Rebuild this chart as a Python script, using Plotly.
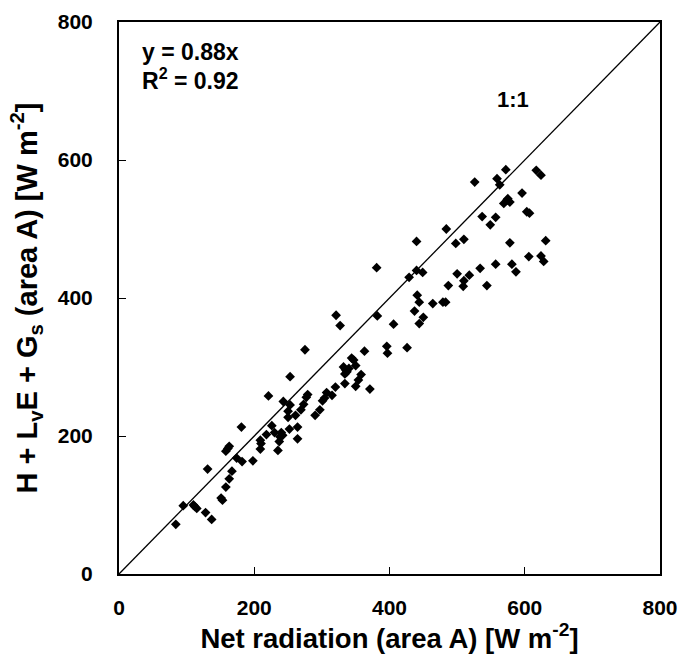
import plotly.graph_objects as go

net_radiation = [
    84, 95, 110, 112, 115, 128, 137, 151, 153, 158, 163, 167, 131, 181, 158, 161, 163, 174, 182, 198,
    209, 210, 209, 218, 226, 230, 235, 237, 238, 240, 242, 252, 221, 243, 253, 250, 250, 261, 264, 264,
    321, 327, 275, 253, 269, 273, 277, 279, 290, 297, 301, 304, 307, 315, 320, 332, 335, 334, 337, 340,
    344, 347, 350, 334, 350, 354,
    381, 429, 440, 449, 500, 487, 441, 444, 437, 444, 450, 464, 479, 483, 382, 406, 396, 397, 426, 363,
    358, 371,
    526, 559, 572, 563, 617, 624, 596, 569, 574, 575, 578, 603, 607, 537, 557, 549, 484, 440, 498, 510,
    578, 631, 606, 624, 628, 557, 581, 587, 534, 518, 510, 509, 544,
]
energy_sum = [
    72, 99, 100, 98, 95, 89, 79, 110, 107, 126, 138, 149, 152, 213, 178, 182, 185, 168, 163, 164,
    194, 189, 181, 202, 215, 205, 179, 192, 199, 205, 201, 210, 258, 250, 245, 236, 227, 230, 213, 196,
    375, 360, 325, 286, 238, 246, 256, 260, 230, 238, 251, 255, 263, 259, 271, 300, 296, 290, 293, 298,
    313, 310, 302, 276, 272, 281,
    444, 430, 440, 437, 435, 418, 404, 394, 381, 363, 372, 392, 394, 394, 374, 362, 330, 320, 328, 323,
    289, 268,
    568, 573, 586, 564, 585, 578, 552, 537, 542, 544, 539, 525, 523, 518, 517, 506, 500, 482, 479, 485,
    480, 483, 460, 461, 453, 449, 449, 438, 443, 433, 425, 417, 418,
]
one_to_one = [0, 800]
tick_vals = [0, 200, 400, 600, 800]

FONT = "Liberation Sans"

fig = go.Figure()
fig.add_trace(go.Scatter(
    x=one_to_one, y=one_to_one, mode="lines",
    line=dict(color="black", width=1.3), showlegend=False, hoverinfo="skip",
))
fig.add_trace(go.Scatter(
    x=net_radiation, y=energy_sum, mode="markers",
    marker=dict(symbol="diamond", size=7.5, color="black"), showlegend=False,
))

axis_common = dict(
    range=[0, 800], tickvals=tick_vals, ticks="inside", ticklen=7, tickwidth=1.3,
    tickcolor="black", showline=True, linecolor="black", linewidth=2, mirror=True,
    showgrid=False, zeroline=False, automargin=False,
    tickfont=dict(family=FONT, size=21, color="black", weight="bold"),
)

fig.update_layout(
    width=680, height=654,
    margin=dict(l=119, r=20, t=22, b=80),
    paper_bgcolor="white", plot_bgcolor="white",
    xaxis=dict(**axis_common, ticklabelstandoff=14,
               title=dict(text="Net radiation (area A) [W m<sup>-2</sup>]",
                          font=dict(family=FONT, size=27.5, color="black", weight="bold"),
                          standoff=0)),
    yaxis=dict(**axis_common, ticklabelstandoff=20,
               title=dict(text="H + L<sub>v</sub>E + G<sub>s</sub> (area A) [W m<sup>-2</sup>]",
                          font=dict(family=FONT, size=29, color="black", weight="bold"),
                          standoff=12)),
    annotations=[
        dict(x=0.038, y=0.945, xref="paper", yref="paper", xanchor="left", yanchor="middle",
             text="y = 0.88x", showarrow=False,
             font=dict(family=FONT, size=23, color="black", weight="bold")),
        dict(x=0.038, y=0.897, xref="paper", yref="paper", xanchor="left", yanchor="middle",
             text="R<sup>2</sup> = 0.92", showarrow=False,
             font=dict(family=FONT, size=23, color="black", weight="bold")),
        dict(x=583, y=687, xref="x", yref="y", xanchor="center", yanchor="middle",
             text="1:1", showarrow=False,
             font=dict(family=FONT, size=22, color="black", weight="bold")),
    ],
)

fig.write_html("out.html", config={"displayModeBar": False},
               post_script="document.body.style.margin='0';")
